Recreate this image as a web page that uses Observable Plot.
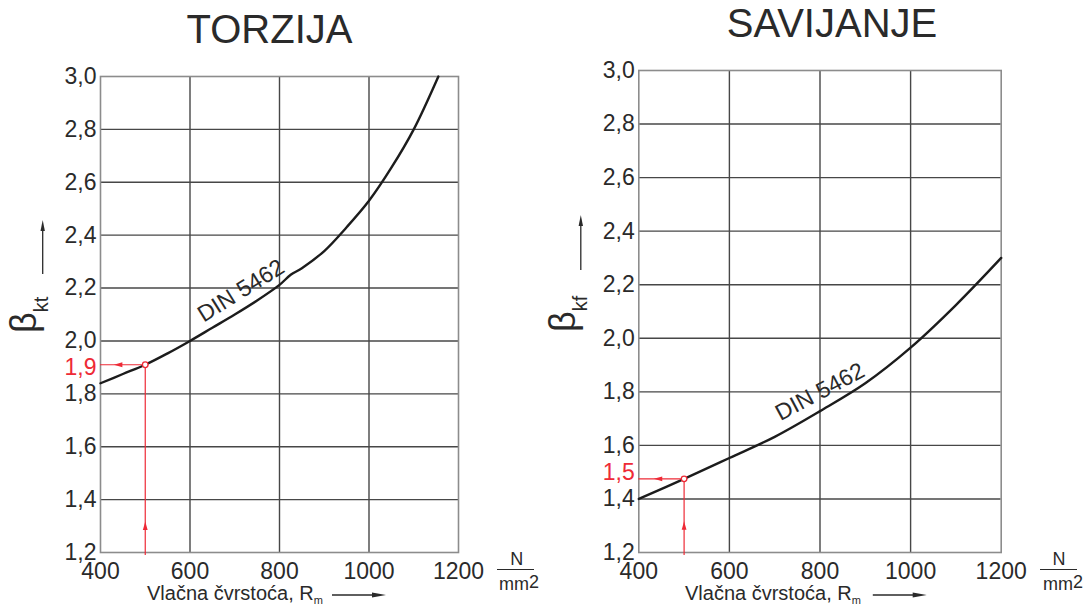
<!DOCTYPE html>
<html><head><meta charset="utf-8">
<script src="https://cdn.jsdelivr.net/npm/d3@7"></script>
<script src="https://cdn.jsdelivr.net/npm/@observablehq/plot@0.6"></script>
<style>
body{margin:0;background:#fff;}
#wrap{position:relative;width:1089px;height:608px;overflow:hidden;background:#fff;}
#wrap svg{position:absolute;top:0;overflow:visible;}
</style></head><body><div id="wrap"></div>
<script>
// ---- data ----
const xTicks = [400, 600, 800, 1000, 1200];
const yTicks = [1.2, 1.4, 1.6, 1.8, 2.0, 2.2, 2.4, 2.6, 2.8, 3.0];
const titles = ["TORZIJA", "SAVIJANJE"];
const yLabelSub = ["kt", "kf"];
const torzijaRm   = [400, 450, 500, 550, 600, 650, 700, 750, 800, 825, 850, 900, 950, 1000, 1050, 1100, 1155];
const torzijaBeta = [1.84, 1.875, 1.91, 1.953, 2.0, 2.05, 2.10, 2.153, 2.212, 2.25, 2.275, 2.34, 2.43, 2.53, 2.655, 2.80, 3.0];
const savijanjeRm   = [400, 500, 600, 700, 800, 900, 1000, 1100, 1200];
const savijanjeBeta = [1.40, 1.475, 1.553, 1.632, 1.728, 1.832, 1.965, 2.124, 2.30];
const readRm = [500, 500];
const readBeta = [1.91, 1.475];
const readLabel = ["1,9", "1,5"];
const readLabelAt = [1.9, 1.5];
const arrowRm = [440, 443];
const arrowBeta = [1.30, 1.30];
const curveLabel = "DIN 5462";
const curveLabelRm = [714, 800];
const curveLabelBeta = [2.19, 1.80];
const curveLabelAngle = [-32, -28];

const FONT = '"Liberation Sans", Arial, Helvetica, sans-serif';
const RED = "#ee2a36";
const INK = "#2a2a2a";
const fmt = d => d3.format(".1f")(d).replace(".", ",");
const headUp = {draw(ctx) { ctx.moveTo(0, -4.5); ctx.lineTo(2.4, 4); ctx.lineTo(-2.4, 4); ctx.closePath(); }};

const layouts = [
  {left: 0, width: 545, ml: 100, mr: 87, mt: 76, title: [269.5, 43], beta: [36.3, 333], yArrow: [42.7, 274, 220],
   xTitle: [147, 600], xArrow: [332, 386, 595], unit: [516.7, 497, 534, 519]},
  {left: 545, width: 544, ml: 93.3, mr: 88.3, mt: 70, title: [832, 37], beta: [574.8, 332], yArrow: [580.8, 270, 215],
   xTitle: [685, 600], xArrow: [872.8, 926.7, 595], unit: [1059, 1040, 1077, 1063]}
];
const rms = [torzijaRm, savijanjeRm];
const betas = [torzijaBeta, savijanjeBeta];

const wrap = document.getElementById("wrap");
layouts.forEach((L, i) => {
  const curve = rms[i].map((x, j) => ({x, y: betas[i][j]}));
  const px = readRm[i], py = readBeta[i];
  const p = Plot.plot({
    width: L.width, height: 608,
    marginLeft: L.ml, marginRight: L.mr, marginTop: L.mt, marginBottom: 56,
    x: {domain: [400, 1200]},
    y: {domain: [1.2, 3.0]},
    style: {fontFamily: FONT, fontSize: "23px", color: INK, background: "transparent", overflow: "visible"},
    marks: [
      Plot.gridX(xTicks.slice(1, -1), {stroke: "#474747", strokeOpacity: 1, strokeWidth: 1.4}),
      Plot.gridY(yTicks.slice(1, -1), {stroke: "#474747", strokeOpacity: 1, strokeWidth: 1.4}),
      Plot.frame({stroke: "#8c8c8c", strokeWidth: 1.6}),
      Plot.axisX(xTicks, {tickSize: 0, tickPadding: 10, fontSize: 23, tickFormat: d => String(d), label: null}),
      Plot.axisY(yTicks, {tickSize: 0, tickPadding: 4, fontSize: 23, tickFormat: fmt, label: null}),
      Plot.line(curve, {x: "x", y: "y", curve: "catmull-rom", stroke: "#1c1c1c", strokeWidth: 2.4}),
      Plot.ruleY([py], {x1: 400, x2: px, stroke: RED, strokeWidth: 1.2}),
      Plot.ruleX([px], {y1: 1.189, y2: py, stroke: RED, strokeWidth: 1.2}),
      Plot.dot([0], {x: arrowRm[i], y: py, symbol: headUp, rotate: -90, fill: RED, stroke: null}),
      Plot.dot([0], {x: px, y: arrowBeta[i], symbol: headUp, rotate: 0, fill: RED, stroke: null}),
      Plot.dot([0], {x: px, y: py, r: 2.8, fill: "white", stroke: RED, strokeWidth: 1.3}),
      Plot.text([readLabel[i]], {x: 400, y: readLabelAt[i], text: d => d, textAnchor: "end", dx: -4, fontSize: 23, fill: RED}),
      Plot.text([curveLabel], {x: curveLabelRm[i], y: curveLabelBeta[i], text: d => d, rotate: curveLabelAngle[i], fontSize: 23, fill: INK})
    ]
  });
  p.style.left = L.left + "px";
  wrap.appendChild(p);
  const s = d3.select(p);
  const o = L.left;
  // title
  s.append("text").attr("x", L.title[0] - o).attr("y", L.title[1]).attr("text-anchor", "middle")
    .attr("font-size", 40).attr("font-family", FONT).attr("fill", INK).text(titles[i]);
  // y label beta
  const yl = s.append("text").attr("transform", `translate(${L.beta[0] - o},${L.beta[1]}) rotate(-90)`)
    .attr("text-anchor", "start").attr("font-family", FONT).attr("fill", INK);
  yl.append("tspan").attr("font-size", 36).text("β");
  yl.append("tspan").attr("font-size", 20).attr("dy", 12).text(yLabelSub[i]);
  // y arrow
  const [ax, ay1, ay2] = L.yArrow;
  s.append("line").attr("x1", ax - o).attr("x2", ax - o).attr("y1", ay1).attr("y2", ay2 + 8)
    .attr("stroke", INK).attr("stroke-width", 1.3);
  s.append("path").attr("d", `M${ax - o},${ay2} L${ax - o + 2.2},${ay2 + 11} L${ax - o - 2.2},${ay2 + 11} Z`).attr("fill", INK);
  // x title
  const xt = s.append("text").attr("x", L.xTitle[0] - o).attr("y", L.xTitle[1]).attr("text-anchor", "start")
    .attr("font-family", FONT).attr("fill", INK).attr("font-size", 20);
  xt.append("tspan").text("Vlačna čvrstoća, R");
  xt.append("tspan").attr("font-size", 11).attr("dy", 4).text("m");
  const [bx1, bx2, by] = L.xArrow;
  s.append("line").attr("x1", bx1 - o).attr("x2", bx2 - o - 10).attr("y1", by).attr("y2", by)
    .attr("stroke", INK).attr("stroke-width", 1.3);
  s.append("path").attr("d", `M${bx2 - o},${by} L${bx2 - o - 14},${by - 2.6} L${bx2 - o - 14},${by + 2.6} Z`).attr("fill", INK);
  // unit N/mm2
  const [nx, lx1, lx2, mx] = L.unit;
  s.append("text").attr("x", nx - o).attr("y", 565).attr("text-anchor", "middle")
    .attr("font-family", FONT).attr("font-size", 18).attr("fill", INK).text("N");
  s.append("line").attr("x1", lx1 - o).attr("x2", lx2 - o).attr("y1", 569.5).attr("y2", 569.5)
    .attr("stroke", INK).attr("stroke-width", 1.2);
  const mm = s.append("text").attr("x", mx - o).attr("y", 590).attr("text-anchor", "middle")
    .attr("font-family", FONT).attr("font-size", 18).attr("fill", INK);
  mm.append("tspan").text("mm");
  mm.append("tspan").attr("dy", -2).text("2");
});
</script></body></html>
